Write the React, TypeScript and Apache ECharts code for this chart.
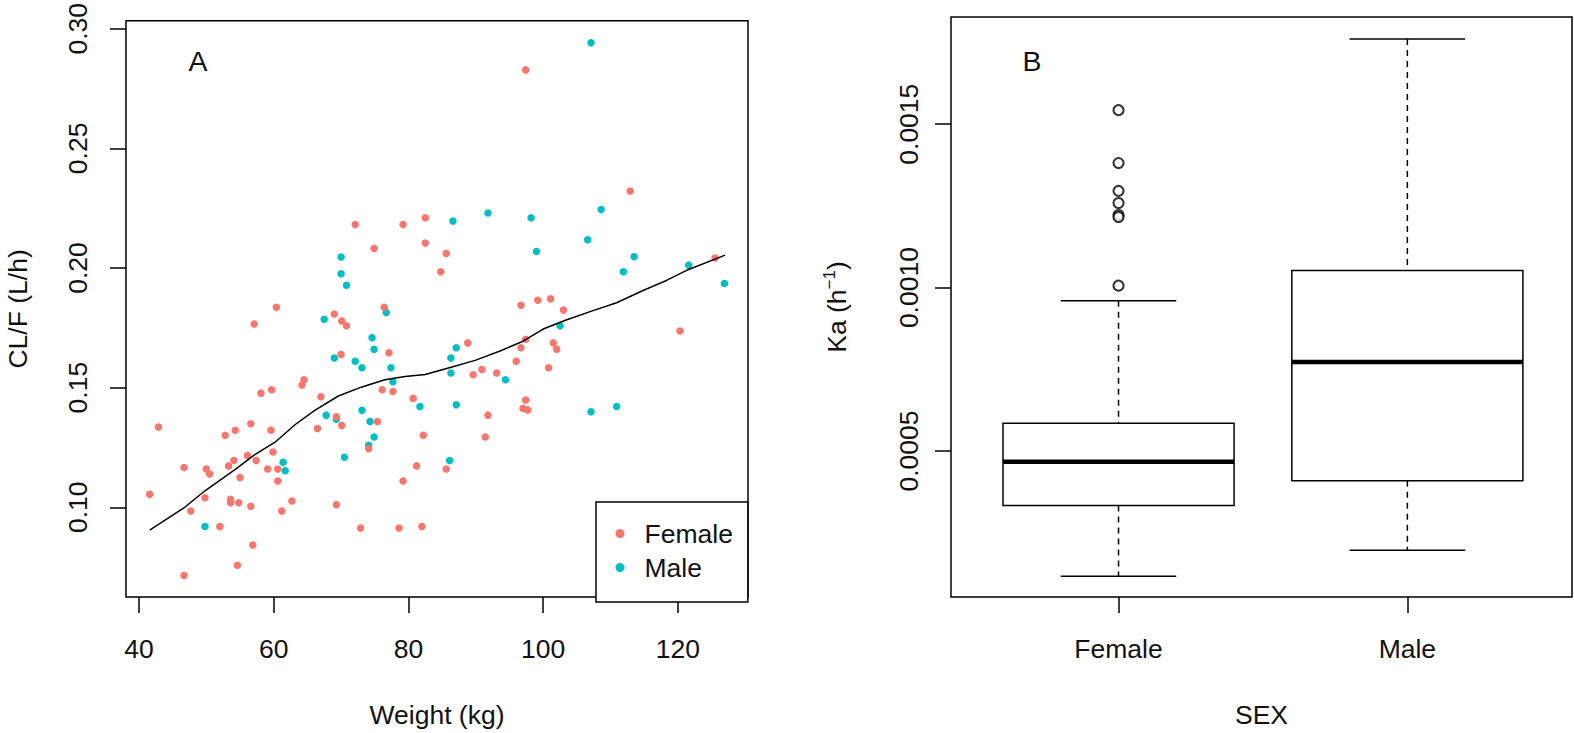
import React, { useEffect, useRef } from "react";
import * as echarts from "echarts";

// ---------- Panel A data: weight (kg) vs CL/F (L/h) ----------
const femalePoints: [number, number][] = [
  [72.1, 0.2182], [79.2, 0.2182], [82.5, 0.221], [74.9, 0.2082], [82.5, 0.2104],
  [60.4, 0.1836], [76.4, 0.1836], [97.4, 0.2828], [112.9, 0.2322], [85.6, 0.2061],
  [84.8, 0.1984], [125.5, 0.2042], [96.7, 0.1844], [99.2, 0.1865], [101.1, 0.1871],
  [103.0, 0.1824], [57.1, 0.1766], [69.0, 0.1808], [70.1, 0.1779], [70.8, 0.1759],
  [77.1, 0.1646], [70.0, 0.1639], [76.1, 0.1491], [77.7, 0.1484], [80.7, 0.1455],
  [64.5, 0.1533], [64.2, 0.1511], [58.1, 0.1477], [59.7, 0.1491], [67.0, 0.1462],
  [42.9, 0.1335], [52.8, 0.1301], [54.3, 0.1322], [56.6, 0.1349], [59.6, 0.1322],
  [66.5, 0.1329], [69.3, 0.1378], [70.1, 0.1342], [75.4, 0.1358], [74.1, 0.1245],
  [82.2, 0.1301], [81.2, 0.1173], [79.2, 0.111], [82.0, 0.092], [72.9, 0.0913],
  [78.6, 0.0913], [59.9, 0.1231], [60.6, 0.116], [59.1, 0.116], [60.6, 0.111],
  [56.1, 0.1216], [57.4, 0.1195], [54.1, 0.1195], [53.3, 0.1173], [55.0, 0.1124],
  [50.0, 0.116], [50.5, 0.1139], [46.7, 0.1166], [41.6, 0.1054], [49.8, 0.104],
  [53.6, 0.1033], [53.6, 0.1019], [54.8, 0.1019], [56.6, 0.1004], [62.7, 0.1026],
  [61.2, 0.0984], [69.3, 0.1011], [47.7, 0.0984], [52.0, 0.092], [56.9, 0.0842],
  [54.6, 0.0758], [46.7, 0.0715], [120.3, 0.1737], [88.8, 0.1687], [89.6, 0.1554],
  [90.9, 0.1576], [93.1, 0.1561], [96.0, 0.161], [96.7, 0.1667], [97.4, 0.1702],
  [101.5, 0.1687], [102.0, 0.166], [100.8, 0.1583], [91.8, 0.1385], [91.4, 0.1294],
  [97.4, 0.1448], [97.0, 0.1414], [97.7, 0.1407], [85.6, 0.116],
];

const malePoints: [number, number][] = [
  [70.0, 0.2046], [70.0, 0.1976], [70.8, 0.1928], [107.1, 0.2941], [86.6, 0.2196],
  [91.8, 0.223], [98.2, 0.221], [108.6, 0.2244], [106.6, 0.2118], [99.0, 0.2069],
  [113.5, 0.2047], [111.9, 0.1984], [121.6, 0.2012], [126.9, 0.1935], [76.7, 0.1814],
  [67.5, 0.1786], [74.6, 0.1709], [74.9, 0.166], [69.0, 0.1624], [72.1, 0.161],
  [73.1, 0.1583], [77.4, 0.1583], [77.7, 0.1525], [81.7, 0.1421], [67.8, 0.1385],
  [69.3, 0.1368], [73.1, 0.1405], [74.3, 0.1358], [74.9, 0.1294], [74.1, 0.1259],
  [70.5, 0.1209], [61.4, 0.1188], [61.7, 0.1153], [49.8, 0.092], [102.5, 0.1759],
  [87.1, 0.1667], [86.3, 0.1624], [86.3, 0.1561], [94.4, 0.1533], [87.1, 0.1428],
  [107.1, 0.1399], [110.9, 0.1421], [86.1, 0.1195],
];

const smoothCurve: [number, number][] = [
  [41.6, 0.0904], [46.8, 0.1], [49.8, 0.1069], [54.3, 0.1158], [57.2, 0.122],
  [60.2, 0.1272], [63.2, 0.1346], [66.1, 0.1405], [69.6, 0.1465], [73.0, 0.1502],
  [76.5, 0.1533], [79.5, 0.1547], [82.5, 0.1555], [86.2, 0.1584], [89.9, 0.1614],
  [93.6, 0.1653], [97.0, 0.1694], [100.0, 0.1745], [103.5, 0.1784], [107.4, 0.1822],
  [110.9, 0.1855], [114.9, 0.1907], [118.3, 0.1948], [121.6, 0.1994], [127.0, 0.2054],
];

const weightTicks = [40, 60, 80, 100, 120];
const clTicks = [0.1, 0.15, 0.2, 0.25, 0.3];

// ---------- Panel B data: Ka by sex ----------
const sexCategories = ["Female", "Male"];
// [position, lower whisker, Q1, median, Q3, upper whisker]
const boxStats: number[][] = [
  [1, 0.000117, 0.000333, 0.000467, 0.000585, 0.00096],
  [2, 0.000196, 0.000409, 0.000772, 0.001052, 0.001761],
];
const outliers: [number, number][] = [
  [1, 0.001543], [1, 0.001381], [1, 0.001296], [1, 0.001259],
  [1, 0.001222], [1, 0.001216], [1, 0.001006],
];
const kaTicks = [0.0005, 0.001, 0.0015];

const FONT = "'Liberation Sans', Arial, Helvetica, sans-serif";
const FS = 26.5;
const TXT = "#111";
const RED = "#F8766D";
const CYAN = "#00BFC4";

export default function App() {
  const ref = useRef<HTMLDivElement>(null);

  useEffect(() => {
    if (!ref.current) return;
    const chart = echarts.init(ref.current, undefined, { renderer: "svg" });

    const tickStyle = { show: true, inside: false, length: 16, lineStyle: { color: "#000", width: 1.5 } };
    const labelBase = { color: TXT, fontFamily: FONT, fontSize: FS };

    const option: any = {
      animation: false,
      backgroundColor: "#fff",
      grid: [
        { left: 126, top: 17, width: 622, height: 584, show: true, borderColor: "#000", borderWidth: 1.5, backgroundColor: "transparent" },
        { left: 951, top: 17, width: 621, height: 584, show: true, borderColor: "#000", borderWidth: 1.5, backgroundColor: "transparent" },
      ],
      xAxis: [
        {
          type: "value", gridIndex: 0, min: 38.08, max: 130.4,
          axisLine: { show: false },
          axisTick: { ...tickStyle, customValues: weightTicks },
          axisLabel: { ...labelBase, margin: 38, customValues: weightTicks, formatter: (v: number) => String(v) },
          splitLine: { show: false },
          name: "Weight (kg)", nameLocation: "middle", nameGap: 104,
          nameTextStyle: { ...labelBase },
        },
        {
          type: "value", gridIndex: 1, min: 0.42, max: 2.57,
          axisLine: { show: false },
          axisTick: { ...tickStyle, customValues: [1, 2] },
          axisLabel: { ...labelBase, margin: 38, customValues: [1, 2], formatter: (v: number) => sexCategories[Math.round(v) - 1] ?? "" },
          splitLine: { show: false },
          name: "SEX", nameLocation: "middle", nameGap: 104,
          nameTextStyle: { ...labelBase },
        },
      ],
      yAxis: [
        {
          type: "value", gridIndex: 0, min: 0.0625, max: 0.3033,
          axisLine: { show: false },
          axisTick: { ...tickStyle, customValues: clTicks },
          axisLabel: { ...labelBase, margin: 35, rotate: 90, customValues: clTicks, formatter: (v: number) => v.toFixed(2) },
          splitLine: { show: false },
          name: "CL/F (L/h)", nameLocation: "middle", nameGap: 95,
          nameTextStyle: { ...labelBase },
        },
        {
          type: "value", gridIndex: 1, min: 0.0000532, max: 0.001828,
          axisLine: { show: false },
          axisTick: { ...tickStyle, customValues: kaTicks },
          axisLabel: { ...labelBase, margin: 29, rotate: 90, customValues: kaTicks, formatter: (v: number) => v.toFixed(4) },
          splitLine: { show: false },
          name: "{a|Ka (h}{s|−1}{a|)}", nameLocation: "middle", nameGap: 98,
          nameTextStyle: {
            ...labelBase,
            rich: {
              a: { fontFamily: FONT, fontSize: FS, color: TXT, lineHeight: 32, verticalAlign: "middle" },
              s: { fontFamily: FONT, fontSize: 17, color: TXT, lineHeight: 32, verticalAlign: "top" },
            },
          },
        },
      ],
      legend: {
        data: ["Female", "Male"],
        orient: "vertical",
        left: 596,
        top: 502,
        icon: "circle",
        itemWidth: 9,
        itemHeight: 9,
        itemGap: 7,
        padding: [18, 15, 21, 19.5],
        borderColor: "#000",
        borderWidth: 1.5,
        borderRadius: 0,
        backgroundColor: "#fff",
        textStyle: { ...labelBase, padding: [0, 0, 0, 15] },
        selectedMode: false,
      },
      graphic: [
        { type: "text", x: 198, y: 61, style: { text: "A", fontFamily: FONT, fontSize: FS + 2, fill: TXT, align: "center", verticalAlign: "middle", textAlign: "center", textVerticalAlign: "middle" } },
        { type: "text", x: 1032, y: 61, style: { text: "B", fontFamily: FONT, fontSize: FS + 2, fill: TXT, align: "center", verticalAlign: "middle", textAlign: "center", textVerticalAlign: "middle" } },
      ],
      series: [
        {
          name: "Male", type: "scatter", xAxisIndex: 0, yAxisIndex: 0,
          data: malePoints, symbolSize: 7.5, itemStyle: { color: CYAN, opacity: 1 },
        },
        {
          name: "Female", type: "scatter", xAxisIndex: 0, yAxisIndex: 0,
          data: femalePoints, symbolSize: 7.5, itemStyle: { color: RED, opacity: 1 },
        },
        {
          name: "smooth", type: "line", xAxisIndex: 0, yAxisIndex: 0,
          data: smoothCurve, showSymbol: false, symbol: "none",
          lineStyle: { color: "#000", width: 1.5 }, z: 5,
        },
        {
          name: "box", type: "custom", coordinateSystem: "cartesian2d", xAxisIndex: 1, yAxisIndex: 1,
          data: boxStats,
          encode: { x: 0, y: [1, 2, 3, 4, 5] },
          renderItem: (_params: any, api: any) => {
            const x = api.value(0);
            const lo = api.value(1), q1 = api.value(2), med = api.value(3), q3 = api.value(4), hi = api.value(5);
            const hw = 0.4, cw = 0.2;
            const c = (a: number, b: number) => api.coord([a, b]);
            const pL = c(x - hw, q3), pR = c(x + hw, q1);
            const pMedL = c(x - hw, med), pMedR = c(x + hw, med);
            const pHi = c(x, hi), pQ3 = c(x, q3), pQ1 = c(x, q1), pLo = c(x, lo);
            const capHiL = c(x - cw, hi), capHiR = c(x + cw, hi);
            const capLoL = c(x - cw, lo), capLoR = c(x + cw, lo);
            const solid = { stroke: "#000", lineWidth: 1.5, fill: "none" };
            const dashed = { stroke: "#000", lineWidth: 1.5, lineDash: [6, 5] };
            return {
              type: "group",
              children: [
                { type: "line", shape: { x1: pHi[0], y1: pHi[1], x2: pQ3[0], y2: pQ3[1] }, style: dashed },
                { type: "line", shape: { x1: pQ1[0], y1: pQ1[1], x2: pLo[0], y2: pLo[1] }, style: dashed },
                { type: "line", shape: { x1: capHiL[0], y1: capHiL[1], x2: capHiR[0], y2: capHiR[1] }, style: solid },
                { type: "line", shape: { x1: capLoL[0], y1: capLoL[1], x2: capLoR[0], y2: capLoR[1] }, style: solid },
                { type: "rect", shape: { x: pL[0], y: pL[1], width: pR[0] - pL[0], height: pR[1] - pL[1] }, style: { stroke: "#000", lineWidth: 1.5, fill: "#fff" } },
                { type: "line", shape: { x1: pMedL[0], y1: pMedL[1], x2: pMedR[0], y2: pMedR[1] }, style: { stroke: "#000", lineWidth: 4.5 } },
              ],
            };
          },
        },
        {
          name: "outliers", type: "scatter", xAxisIndex: 1, yAxisIndex: 1,
          data: outliers, symbol: "emptyCircle", symbolSize: 10,
          itemStyle: { color: "#000", borderColor: "#000", borderWidth: 1.3 },
        },
      ],
    };

    chart.setOption(option);
    return () => chart.dispose();
  }, []);

  return <div ref={ref} style={{ position: "fixed", left: 0, top: 0, width: 1574, height: 733 }} />;
}
